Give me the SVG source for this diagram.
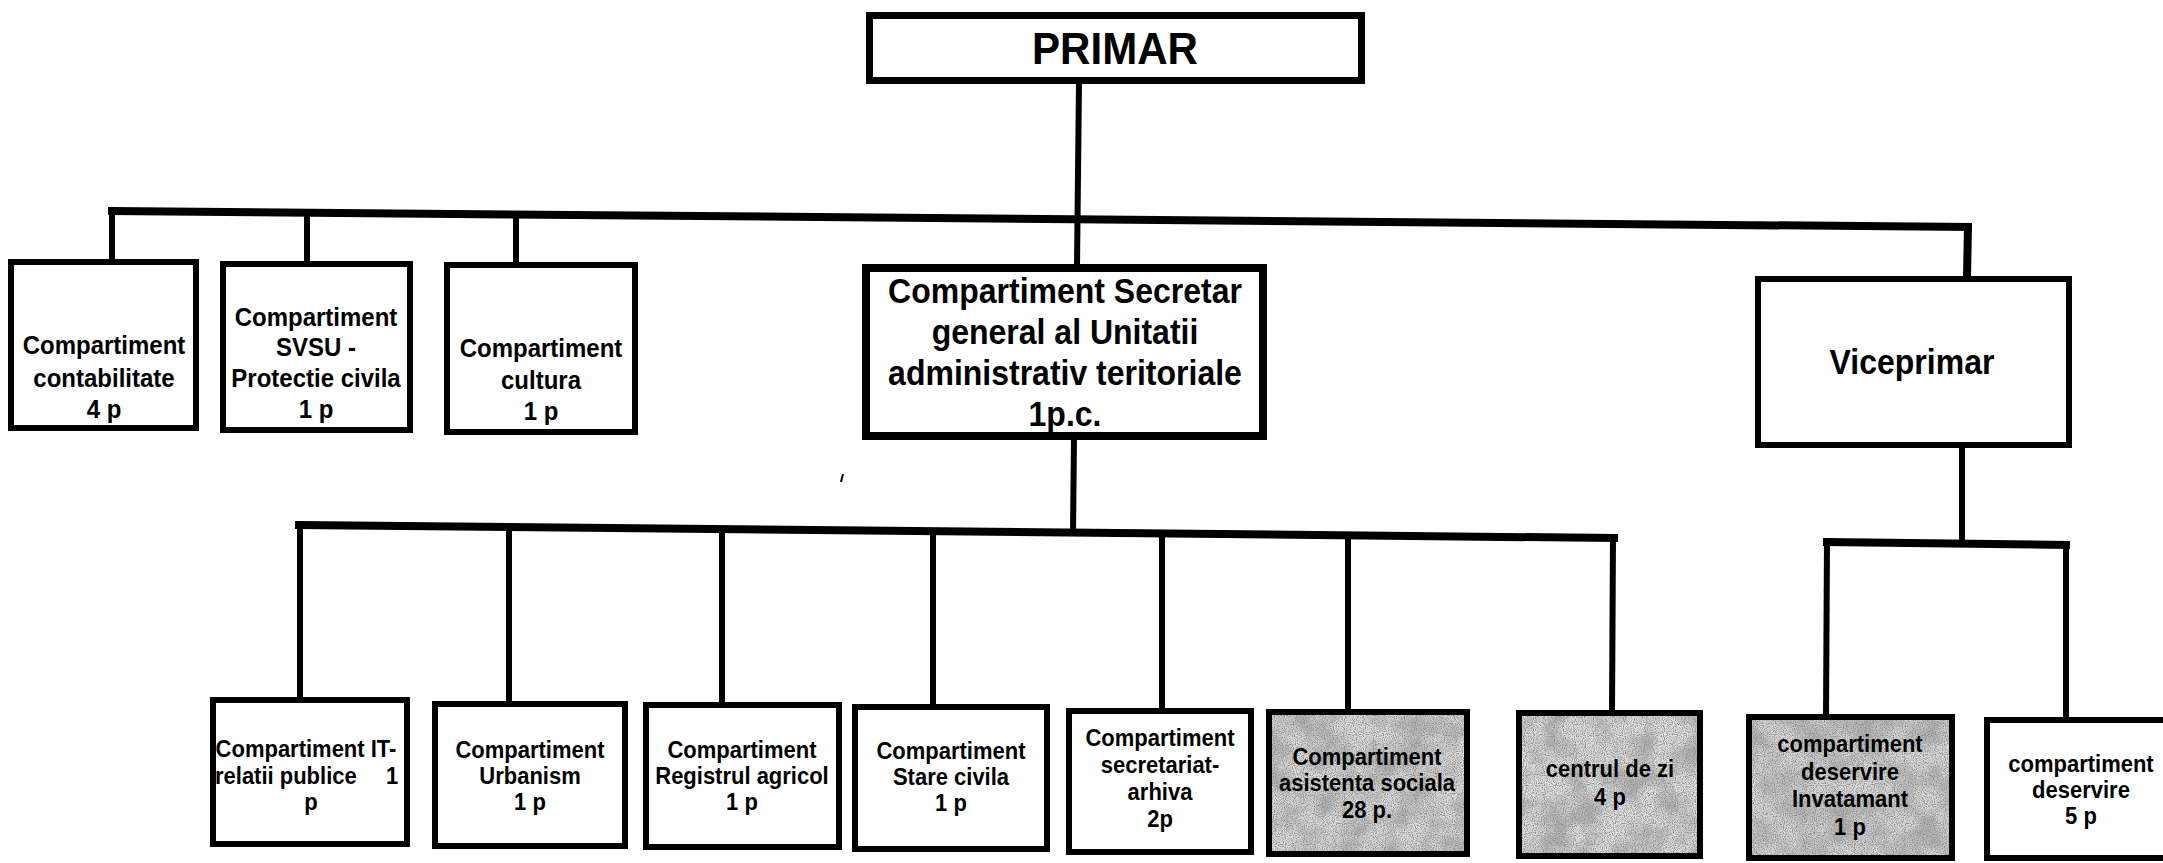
<svg xmlns="http://www.w3.org/2000/svg" width="2163" height="863" viewBox="0 0 2163 863">
<style>
  .box{fill:#fff;stroke:#000;stroke-width:6}
  .boxk{fill:none;stroke:#000;stroke-width:6}
  .thick{stroke-width:8}
  .bus{stroke:#000;stroke-width:8;fill:none;stroke-linecap:square}
  .drop{stroke:#000;stroke-width:6;fill:none}
  text{font-family:"Liberation Sans",Arial,Helvetica,sans-serif;font-weight:bold;fill:#000;text-anchor:middle}
  .t40{font-size:40px}
  .t32{font-size:32px}
  .t24{font-size:24px}
  .t22{font-size:22px}
</style>
<defs>
  <filter id="speckle" x="0" y="0" width="1" height="1">
    <feTurbulence type="fractalNoise" baseFrequency="0.035" numOctaves="3" seed="9" result="coarse"/>
    <feColorMatrix in="coarse" type="matrix" values="0 0 0 0 0.45 0 0 0 0 0.45 0 0 0 0 0.45 2.6 0 0 0 -0.95" result="blot"/>
    <feTurbulence type="fractalNoise" baseFrequency="0.9" numOctaves="1" seed="4" result="fine"/>
    <feColorMatrix in="fine" type="matrix" values="0 0 0 0 0.25 0 0 0 0 0.25 0 0 0 0 0.25 3.2 0 0 0 -1.35" result="dots"/>
    <feMerge><feMergeNode in="blot"/><feMergeNode in="dots"/></feMerge>
  </filter>
</defs>
<rect width="2163" height="863" fill="#fff"/>

<g id="connectors">
  <line class="drop" x1="1079" y1="82" x2="1077" y2="266"/>
  <line class="bus" x1="112" y1="211" x2="1968" y2="227"/>
  <line class="drop" x1="112" y1="208" x2="112" y2="261"/>
  <line class="drop" x1="307" y1="210" x2="307" y2="263"/>
  <line class="drop" x1="516" y1="212" x2="516" y2="264"/>
  <line class="drop" x1="1968" y1="224" x2="1967" y2="278" style="stroke-width:8"/>
  <line class="drop" x1="1074" y1="438" x2="1073" y2="533"/>
  <line class="bus" x1="299" y1="525" x2="1614" y2="538"/>
  <line class="drop" x1="300" y1="522" x2="300" y2="699"/>
  <line class="drop" x1="509" y1="524" x2="509" y2="703"/>
  <line class="drop" x1="722" y1="526" x2="722" y2="704"/>
  <line class="drop" x1="933" y1="528" x2="933" y2="706"/>
  <line class="drop" x1="1162" y1="530" x2="1162" y2="710"/>
  <line class="drop" x1="1348" y1="532" x2="1348" y2="711"/>
  <line class="drop" x1="1613" y1="535" x2="1612" y2="712"/>
  <line class="drop" x1="1962" y1="446" x2="1962" y2="545"/>
  <line class="bus" x1="1827" y1="542" x2="2066" y2="545"/>
  <line class="drop" x1="1827" y1="539" x2="1826" y2="716"/>
  <line class="drop" x1="2066" y1="542" x2="2066" y2="719"/>
  <line x1="843" y1="474" x2="841" y2="482" stroke="#000" stroke-width="2"/>
</g>

<g id="primar">
  <rect class="box" x="869.5" y="15.5" width="492" height="65" style="stroke-width:7"/>
  <text class="t40" x="1115" y="64" textLength="166" lengthAdjust="spacingAndGlyphs" transform="matrix(1 0 0 1.1 0 -6.4)">PRIMAR</text>
</g>

<g id="contabilitate">
  <rect class="box" x="11" y="262" width="185" height="166"/>
  <text class="t24" x="104" y="354" transform="matrix(1 0 0 1.1 0 -35.4)">Compartiment</text>
  <text class="t24" x="104" y="387" transform="matrix(1 0 0 1.1 0 -38.7)">contabilitate</text>
  <text class="t24" x="104" y="418" transform="matrix(1 0 0 1.1 0 -41.8)">4 p</text>
</g>

<g id="svsu">
  <rect class="box" x="223" y="264" width="187" height="166"/>
  <text class="t24" x="316" y="326" transform="matrix(1 0 0 1.1 0 -32.6)">Compartiment</text>
  <text class="t24" x="316" y="356" transform="matrix(1 0 0 1.1 0 -35.6)">SVSU -</text>
  <text class="t24" x="316" y="387" transform="matrix(1 0 0 1.1 0 -38.7)">Protectie civila</text>
  <text class="t24" x="316" y="418" transform="matrix(1 0 0 1.1 0 -41.8)">1 p</text>
</g>

<g id="cultura">
  <rect class="box" x="447" y="265" width="188" height="167"/>
  <text class="t24" x="541" y="357" transform="matrix(1 0 0 1.1 0 -35.7)">Compartiment</text>
  <text class="t24" x="541" y="389" transform="matrix(1 0 0 1.1 0 -38.9)">cultura</text>
  <text class="t24" x="541" y="420" transform="matrix(1 0 0 1.1 0 -42)">1 p</text>
</g>

<g id="secretar">
  <rect class="box thick" x="866" y="268" width="397" height="168"/>
  <text class="t32" x="1065" y="303" transform="matrix(1 0 0 1.1 0 -30.3)">Compartiment Secretar</text>
  <text class="t32" x="1065" y="344" transform="matrix(1 0 0 1.1 0 -34.4)">general al Unitatii</text>
  <text class="t32" x="1065" y="385" transform="matrix(1 0 0 1.1 0 -38.5)">administrativ teritoriale</text>
  <text class="t32" x="1065" y="426" transform="matrix(1 0 0 1.1 0 -42.6)">1p.c.</text>
</g>

<g id="viceprimar">
  <rect class="box" x="1758" y="279" width="311" height="166"/>
  <text class="t32" x="1912" y="374" transform="matrix(1 0 0 1.1 0 -37.4)">Viceprimar</text>
</g>

<g id="it">
  <rect class="box" x="213" y="700" width="194" height="144"/>
  <text class="t22" x="306" y="757" transform="matrix(1 0 0 1.1 0 -75.7)">Compartiment IT-</text>
  <text class="t22" x="215" y="784" style="text-anchor:start" transform="matrix(1 0 0 1.1 0 -78.4)"><tspan>relatii publice</tspan><tspan x="386">1</tspan></text>
  <text class="t22" x="311" y="810" transform="matrix(1 0 0 1.1 0 -81)">p</text>
</g>

<g id="urbanism">
  <rect class="box" x="435" y="704" width="190" height="142"/>
  <text class="t22" x="530" y="758" transform="matrix(1 0 0 1.1 0 -75.8)">Compartiment</text>
  <text class="t22" x="530" y="784" transform="matrix(1 0 0 1.1 0 -78.4)">Urbanism</text>
  <text class="t22" x="530" y="810" transform="matrix(1 0 0 1.1 0 -81)">1 p</text>
</g>

<g id="registrul">
  <rect class="box" x="646" y="705" width="193" height="142"/>
  <text class="t22" x="742" y="758" transform="matrix(1 0 0 1.1 0 -75.8)">Compartiment</text>
  <text class="t22" x="742" y="784" transform="matrix(1 0 0 1.1 0 -78.4)">Registrul agricol</text>
  <text class="t22" x="742" y="810" transform="matrix(1 0 0 1.1 0 -81)">1 p</text>
</g>

<g id="stare-civila">
  <rect class="box" x="855" y="707" width="192" height="142"/>
  <text class="t22" x="951" y="759" transform="matrix(1 0 0 1.1 0 -75.9)">Compartiment</text>
  <text class="t22" x="951" y="785" transform="matrix(1 0 0 1.1 0 -78.5)">Stare civila</text>
  <text class="t22" x="951" y="811" transform="matrix(1 0 0 1.1 0 -81.1)">1 p</text>
</g>

<g id="secretariat">
  <rect class="box" x="1069" y="711" width="182" height="141"/>
  <text class="t22" x="1160" y="746" transform="matrix(1 0 0 1.1 0 -74.6)">Compartiment</text>
  <text class="t22" x="1160" y="773" transform="matrix(1 0 0 1.1 0 -77.3)">secretariat-</text>
  <text class="t22" x="1160" y="800" transform="matrix(1 0 0 1.1 0 -80)">arhiva</text>
  <text class="t22" x="1160" y="827" transform="matrix(1 0 0 1.1 0 -82.7)">2p</text>
</g>

<g id="asistenta">
  <rect x="1269" y="712" width="198" height="142" fill="#dedede"/>
  <rect x="1269" y="712" width="198" height="142" fill="#fff" filter="url(#speckle)"/>
  <rect class="boxk" x="1269" y="712" width="198" height="142"/>
  <text class="t22" x="1367" y="765" transform="matrix(1 0 0 1.1 0 -76.5)">Compartiment</text>
  <text class="t22" x="1367" y="791" transform="matrix(1 0 0 1.1 0 -79.1)">asistenta sociala</text>
  <text class="t22" x="1367" y="818" transform="matrix(1 0 0 1.1 0 -81.8)">28 p.</text>
</g>

<g id="centrul">
  <rect x="1519" y="713" width="181" height="143" fill="#e2e2e2"/>
  <rect x="1519" y="713" width="181" height="143" fill="#fff" filter="url(#speckle)"/>
  <rect class="boxk" x="1519" y="713" width="181" height="143"/>
  <text class="t22" x="1610" y="777" transform="matrix(1 0 0 1.1 0 -77.7)">centrul de zi</text>
  <text class="t22" x="1610" y="805" transform="matrix(1 0 0 1.1 0 -80.5)">4 p</text>
</g>

<g id="invatamant">
  <rect x="1749" y="717" width="203" height="141" fill="#dadada"/>
  <rect x="1749" y="717" width="203" height="141" fill="#fff" filter="url(#speckle)"/>
  <rect class="boxk" x="1749" y="717" width="203" height="141"/>
  <text class="t22" x="1850" y="752" transform="matrix(1 0 0 1.1 0 -75.2)">compartiment</text>
  <text class="t22" x="1850" y="780" transform="matrix(1 0 0 1.1 0 -78)">deservire</text>
  <text class="t22" x="1850" y="807" transform="matrix(1 0 0 1.1 0 -80.7)">Invatamant</text>
  <text class="t22" x="1850" y="835" transform="matrix(1 0 0 1.1 0 -83.5)">1 p</text>
</g>

<g id="deservire">
  <rect class="box" x="1987" y="720" width="190" height="138"/>
  <text class="t22" x="2081" y="772" transform="matrix(1 0 0 1.1 0 -77.2)">compartiment</text>
  <text class="t22" x="2081" y="798" transform="matrix(1 0 0 1.1 0 -79.8)">deservire</text>
  <text class="t22" x="2081" y="824" transform="matrix(1 0 0 1.1 0 -82.4)">5 p</text>
</g>
</svg>
